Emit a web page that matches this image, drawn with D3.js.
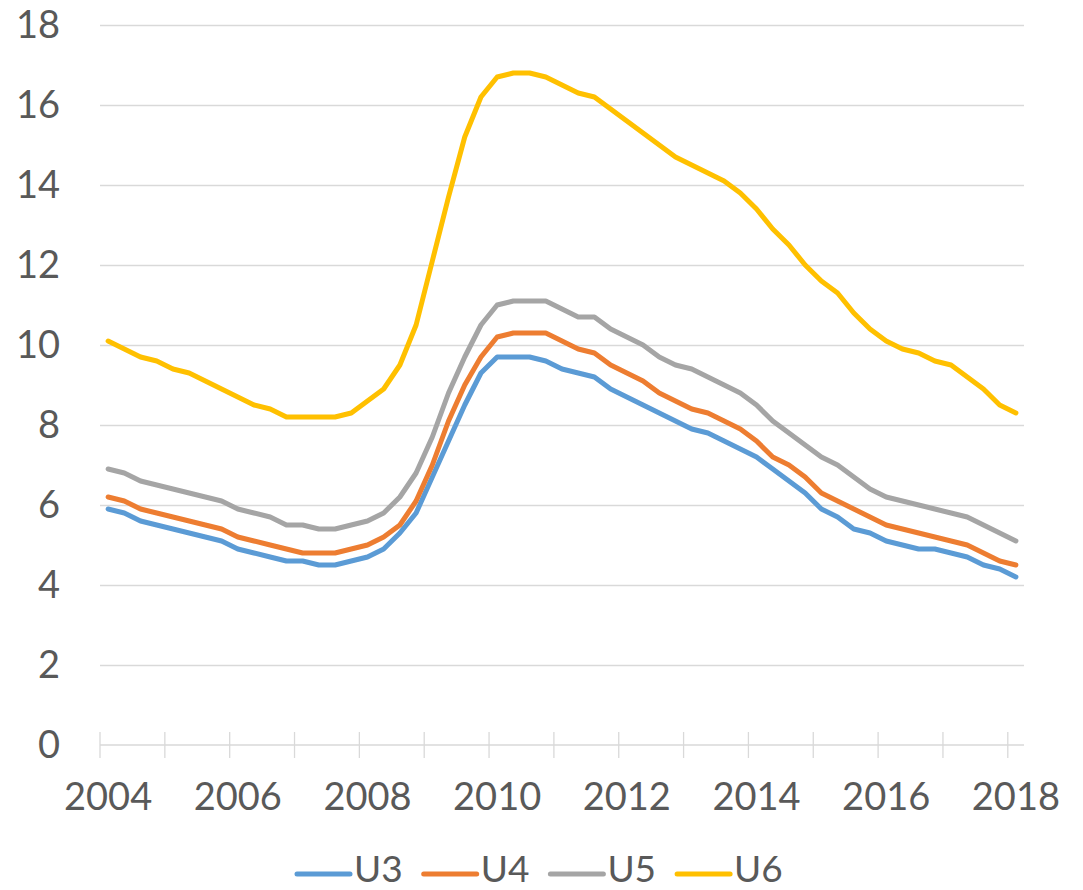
<!DOCTYPE html>
<html>
<head>
<meta charset="utf-8">
<script src="https://cdn.jsdelivr.net/npm/d3@7"></script>
<style>
  body { margin: 0; background: #fff; }
  text { font-family: Lato, "Open Sans", sans-serif; fill: #595959; }
</style>
</head>
<body>
<script>
// quarterly series, 2004 Q1 .. 2018 Q1
var years = [2004, 2005, 2006, 2007, 2008, 2009, 2010, 2011, 2012, 2013, 2014, 2015, 2016, 2017, 2018];
var tickLabels = ["2004", "2006", "2008", "2010", "2012", "2014", "2016", "2018"];
var yTicks = [0, 2, 4, 6, 8, 10, 12, 14, 16, 18];

var quarters = [];
years.forEach(function(y) {
  for (var q = 1; q <= 4; q++) {
    if (y == 2018 && q > 1) break;
    quarters.push(y + "Q" + q);
  }
});

var u3 = [5.9, 5.8, 5.6, 5.5, 5.4, 5.3, 5.2, 5.1, 4.9, 4.8, 4.7, 4.6, 4.6, 4.5, 4.5, 4.6, 4.7, 4.9, 5.3, 5.8,
          6.7, 7.6, 8.5, 9.3, 9.7, 9.7, 9.7, 9.6, 9.4, 9.3, 9.2, 8.9, 8.7, 8.5, 8.3, 8.1, 7.9, 7.8, 7.6, 7.4,
          7.2, 6.9, 6.6, 6.3, 5.9, 5.7, 5.4, 5.3, 5.1, 5.0, 4.9, 4.9, 4.8, 4.7, 4.5, 4.4, 4.2];
var u4 = [6.2, 6.1, 5.9, 5.8, 5.7, 5.6, 5.5, 5.4, 5.2, 5.1, 5.0, 4.9, 4.8, 4.8, 4.8, 4.9, 5.0, 5.2, 5.5, 6.1,
          7.0, 8.1, 9.0, 9.7, 10.2, 10.3, 10.3, 10.3, 10.1, 9.9, 9.8, 9.5, 9.3, 9.1, 8.8, 8.6, 8.4, 8.3, 8.1, 7.9,
          7.6, 7.2, 7.0, 6.7, 6.3, 6.1, 5.9, 5.7, 5.5, 5.4, 5.3, 5.2, 5.1, 5.0, 4.8, 4.6, 4.5];
var u5 = [6.9, 6.8, 6.6, 6.5, 6.4, 6.3, 6.2, 6.1, 5.9, 5.8, 5.7, 5.5, 5.5, 5.4, 5.4, 5.5, 5.6, 5.8, 6.2, 6.8,
          7.7, 8.8, 9.7, 10.5, 11.0, 11.1, 11.1, 11.1, 10.9, 10.7, 10.7, 10.4, 10.2, 10.0, 9.7, 9.5, 9.4, 9.2, 9.0, 8.8,
          8.5, 8.1, 7.8, 7.5, 7.2, 7.0, 6.7, 6.4, 6.2, 6.1, 6.0, 5.9, 5.8, 5.7, 5.5, 5.3, 5.1];
var u6 = [10.1, 9.9, 9.7, 9.6, 9.4, 9.3, 9.1, 8.9, 8.7, 8.5, 8.4, 8.2, 8.2, 8.2, 8.2, 8.3, 8.6, 8.9, 9.5, 10.5,
          12.1, 13.7, 15.2, 16.2, 16.7, 16.8, 16.8, 16.7, 16.5, 16.3, 16.2, 15.9, 15.6, 15.3, 15.0, 14.7, 14.5, 14.3, 14.1, 13.8,
          13.4, 12.9, 12.5, 12.0, 11.6, 11.3, 10.8, 10.4, 10.1, 9.9, 9.8, 9.6, 9.5, 9.2, 8.9, 8.5, 8.3];

var seriesNames = ["U3", "U4", "U5", "U6"];
var seriesValues = [u3, u4, u5, u6];
var colors = ["#5B9BD5", "#ED7D31", "#A5A5A5", "#FFC000"];

var margin = {top: 25, left: 100, right: 59, bottom: 145},
    width = 1083 - margin.left - margin.right,
    height = 890 - margin.top - margin.bottom;

var svg = d3.select("body").append("svg")
    .attr("width", 1083)
    .attr("height", 890);

var g = svg.append("g")
    .attr("transform", "translate(" + margin.left + "," + margin.top + ")");

var x = d3.scaleBand().domain(quarters).range([0, width]);
var y = d3.scaleLinear().domain([0, 18]).range([height, 0]);

// gridlines + y labels
var yAxis = g.append("g")
    .call(d3.axisLeft(y).tickValues(yTicks).tickSize(-width).tickPadding(40));
yAxis.select(".domain").remove();
yAxis.selectAll("line").attr("stroke", "#D9D9D9").attr("stroke-width", 1.3);
yAxis.selectAll("text")
    .attr("fill", "#595959")
    .style("font-family", "Lato, 'Open Sans', sans-serif")
    .style("font-size", "38px");
yAxis.selectAll(".tick").filter(function(d) { return d == 0; }).select("line").remove();

// x axis line and tick marks between categories
g.append("line")
    .attr("x1", 0).attr("x2", width)
    .attr("y1", height).attr("y2", height)
    .attr("stroke", "#D9D9D9").attr("stroke-width", 1.3);

var tickQuarters = quarters.filter(function(d, i) { return i % 4 == 0; });
g.selectAll("line.xtick")
    .data(tickQuarters)
  .enter().append("line")
    .attr("class", "xtick")
    .attr("x1", function(d) { return x(d); })
    .attr("x2", function(d) { return x(d); })
    .attr("y1", height - 13)
    .attr("y2", height + 13)
    .attr("stroke", "#D9D9D9").attr("stroke-width", 1.3);

g.selectAll("text.xlabel")
    .data(tickLabels)
  .enter().append("text")
    .attr("class", "xlabel")
    .attr("x", function(d) { return x(d + "Q1") + x.bandwidth() / 2; })
    .attr("y", height + 65)
    .attr("text-anchor", "middle")
    .style("font-size", "38px")
    .text(function(d) { return d; });

// series lines
var line = d3.line()
    .x(function(d, i) { return x(quarters[i]) + x.bandwidth() / 2; })
    .y(function(d) { return y(d); });

g.selectAll("path.series")
    .data(seriesValues)
  .enter().append("path")
    .attr("class", "series")
    .attr("d", line)
    .attr("fill", "none")
    .attr("stroke", function(d, i) { return colors[i]; })
    .attr("stroke-width", 5)
    .attr("stroke-linejoin", "round")
    .attr("stroke-linecap", "round");

// legend
var legend = svg.selectAll("g.legend")
    .data(seriesNames)
  .enter().append("g")
    .attr("class", "legend")
    .attr("transform", function(d, i) { return "translate(" + (297 + i * 126.7) + ",874)"; });

legend.append("line")
    .attr("x1", 0).attr("x2", 53)
    .attr("stroke", function(d, i) { return colors[i]; })
    .attr("stroke-width", 5)
    .attr("stroke-linecap", "round");

legend.append("text")
    .attr("x", 57)
    .attr("y", 8)
    .style("font-size", "37px")
    .text(function(d) { return d; });
</script>
</body>
</html>
